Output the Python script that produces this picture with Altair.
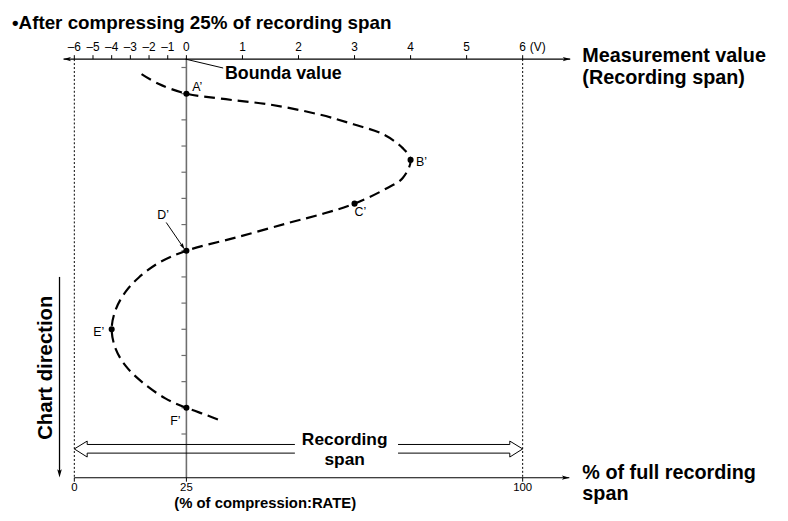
import altair as alt
import pandas as pd

# ---------------- data ----------------
# measurement-value axis (top), volts
TOP_TICKS_V = [-6, -5, -4, -3, -2, -1, 0, 1, 2, 3, 4, 5, 6]
TOP_TICK_LABELS = ["–6", "–5", "–4", "–3", "–2", "–1", "0", "1", "2", "3", "4", "5", "6"]
# % of full recording span axis (bottom)
BOTTOM_TICKS = [0, 25, 100]
BOTTOM_TICK_LABELS = ["0", "25", "100"]
# chart-direction (time) ticks along the bound line
TIME_TICKS = list(range(0, 15))

# recorded waveform (volts, time units)
CURVE_V = [-2.40, -1.50, 0.00, 0.61, 1.50, 2.38, 2.98, 3.51, 3.86, 4.00, 3.86, 3.56,
           3.00, 2.45, 1.80, 0.91, 0.00, -1.50, -2.56, -3.25, -3.78, -4.00, -3.78,
           -3.25, -2.40, -1.13, 0.00, 0.38, 0.64]
CURVE_T = [0.25, 0.62, 1.00, 1.19, 1.42, 1.80, 2.17, 2.55, 3.08, 3.53, 4.22, 4.63,
           5.20, 5.58, 5.95, 6.48, 7.00, 7.47, 8.03, 8.56, 9.24, 10.00, 10.76,
           11.40, 12.00, 12.64, 13.00, 13.29, 13.51]

POINT_NAMES = ["A’", "B’", "C’", "D’", "E’", "F’"]
POINT_V = [0, 4, 3, 0, -4, 0]
POINT_T = [1.0, 3.53, 5.2, 7.0, 10.0, 13.0]

SPAN_MIN, SPAN_MAX, BOUND_V, RATE = -6, 6, 0, 25


def to_pct(v):
    """position (in % of full recording span) of a value after compression"""
    if v < BOUND_V:
        return RATE * (v - SPAN_MIN) / (BOUND_V - SPAN_MIN)
    return RATE + (100 - RATE) * (v - BOUND_V) / (SPAN_MAX - BOUND_V)


# ---------------- layout ----------------
W, H = 780, 505
PX_PCT, PX_T = 4.53, 26.45          # pixels per % and per time unit
X0_PX, Y0_PX = 67, 57.5             # where pct 0 / time 0 sit in the plot area
XS = alt.Scale(domain=[-X0_PX / PX_PCT, (W - X0_PX) / PX_PCT], nice=False, zero=False)
YS = alt.Scale(domain=[-Y0_PX / PX_T, (H - Y0_PX) / PX_T], nice=False, zero=False, reverse=True)

T_TOP, T_BOT = -0.32, 15.67          # top / bottom axis lines
FONT = "Liberation Sans"


def X(f="x"):
    return alt.X(f, type="quantitative", scale=XS, axis=None)


def Y(f="y"):
    return alt.Y(f, type="quantitative", scale=YS, axis=None)


def rules(rows, color="black", width=1.2, dash=None):
    df = pd.DataFrame(rows, columns=["x", "y", "x2", "y2"])
    kw = dict(color=color, strokeWidth=width)
    if dash:
        kw["strokeDash"] = dash
    return alt.Chart(df).mark_rule(**kw).encode(x=X(), y=Y(), x2=alt.X2("x2"), y2=alt.Y2("y2"))


def texts(rows, size, bold=False, align="left", baseline="alphabetic", angle=0, lh=None):
    df = pd.DataFrame(rows, columns=["x", "y", "label"])
    kw = dict(font=FONT, fontSize=size, fontWeight="bold" if bold else "normal",
              align=align, baseline=baseline, color="black", lineBreak="\n")
    if angle:
        kw["angle"] = angle
    if lh:
        kw["lineHeight"] = lh
    return alt.Chart(df).mark_text(**kw).encode(x=X(), y=Y(), text="label:N")


ARROW = "M1,0L-1,-0.55L-0.55,0L-1,0.55Z"


def arrowheads(rows, size):
    df = pd.DataFrame(rows, columns=["x", "y", "ang"])
    return alt.Chart(df).mark_point(shape=ARROW, filled=True, color="black", opacity=1,
                                    size=size, strokeWidth=0).encode(
        x=X(), y=Y(), angle=alt.Angle("ang:Q", scale=None))


top_pct = [to_pct(v) for v in TOP_TICKS_V]
tick_up = 4 / PX_T
tick_len = 5 / PX_PCT

layers = []

# dotted span limits, bound line
layers.append(rules([[0, T_TOP, 0, T_BOT], [100, T_TOP, 100, T_BOT]], width=1, dash=[2, 2]))
layers.append(rules([[RATE, T_TOP, RATE, T_BOT]], color="#6e6e6e", width=1.6))
layers.append(rules([[RATE, t, RATE - tick_len, t] for t in TIME_TICKS], color="#6e6e6e", width=1.2))

# top axis
layers.append(rules([[-2.4, T_TOP, 110.6, T_TOP]], width=1.2))
layers.append(rules([[p, T_TOP, p, T_TOP - tick_up] for p in top_pct], width=1))
layers.append(texts([[p, -0.62, l] for p, l in zip(top_pct, TOP_TICK_LABELS)], 12, align="center"))
layers.append(texts([[101.6, -0.62, "(V)"]], 12))
layers.append(arrowheads([[-1.6, T_TOP, 180], [109.8, T_TOP, 0]], 60))

# bottom axis
layers.append(rules([[0, T_BOT, 110.4, T_BOT]], width=1.2))
layers.append(rules([[p, T_BOT, p, T_BOT + tick_up] for p in BOTTOM_TICKS], width=1))
layers.append(texts([[p, 16.19, l] for p, l in zip(BOTTOM_TICKS, BOTTOM_TICK_LABELS)], 11.5, align="center"))
layers.append(arrowheads([[109.6, T_BOT, 0]], 60))

# recording span double arrow (hollow)
left_arrow = [[49.2, 14.40], [2.87, 14.40], [2.87, 14.27], [0, 14.57], [2.87, 14.88], [2.87, 14.73], [49.2, 14.73]]
right_arrow = [[72.2, 14.40], [97.13, 14.40], [97.13, 14.27], [100, 14.57], [97.13, 14.88], [97.13, 14.73], [72.2, 14.73]]
span_df = pd.DataFrame(
    [dict(side="L", i=i, x=p[0], y=p[1]) for i, p in enumerate(left_arrow)] +
    [dict(side="R", i=i, x=p[0], y=p[1]) for i, p in enumerate(right_arrow)])
layers.append(alt.Chart(span_df).mark_line(color="black", strokeWidth=1).encode(
    x=X(), y=Y(), detail="side:N", order="i:Q"))
layers.append(texts([[60.3, 14.42, "Recording\nspan"]], 17.5, bold=True, align="center", lh=20))

# chart direction arrow
layers.append(rules([[-3.3, 8.0, -3.3, 15.45]], width=1.3))
layers.append(arrowheads([[-3.3, 15.5, 90]], 70))
layers.append(texts([[-6.4, 11.47, "Chart direction"]], 20.5, bold=True, align="center",
                    baseline="middle", angle=270))

# waveform
curve_df = pd.DataFrame({"i": range(len(CURVE_V)), "x": [to_pct(v) for v in CURVE_V], "y": CURVE_T})
layers.append(alt.Chart(curve_df).mark_line(color="black", strokeWidth=2.2, strokeDash=[11, 6],
                                            interpolate="catmull-rom").encode(
    x=X(), y=Y(), order="i:Q"))

pts_df = pd.DataFrame({"x": [to_pct(v) for v in POINT_V], "y": POINT_T, "name": POINT_NAMES})
layers.append(alt.Chart(pts_df).mark_point(shape="circle", filled=True, color="black", opacity=1,
                                           size=38).encode(x=X(), y=Y()))
layers.append(texts([[26.3, 0.89, "A’"], [76.2, 3.76, "B’"], [62.5, 5.69, "C’"],
                     [18.5, 5.80, "D’"], [4.2, 10.26, "E’"], [21.4, 13.67, "F’"]], 12.5))

# D' pointer
layers.append(rules([[20.5, 5.92, 24.1, 6.82]], width=1))
layers.append(arrowheads([[24.2, 6.84, 58]], 45))

# bound value label
layers.append(rules([[24.8, T_TOP, 33.2, 0.02]], width=1))
layers.append(texts([[33.6, 0.43, "Bounda value"]], 18, bold=True))

# headings / axis titles
layers.append(texts([[-13.9, -1.46, "•After compressing 25% of recording span"]], 19, bold=True))
layers.append(texts([[113.3, -0.21, "Measurement value\n(Recording span)"]], 20, bold=True, lh=22))
layers.append(texts([[113.3, 15.71, "% of full recording\nspan"]], 20, bold=True, lh=21))
layers.append(texts([[22.3, 16.82, "(% of compression:RATE)"]], 15, bold=True))

chart = alt.layer(*layers).properties(
    width=W, height=H, padding=0, autosize=alt.AutoSizeParams(type="none")
).configure_view(stroke=None)

chart.save("out.html", embed_options={"renderer": "svg", "actions": False})
